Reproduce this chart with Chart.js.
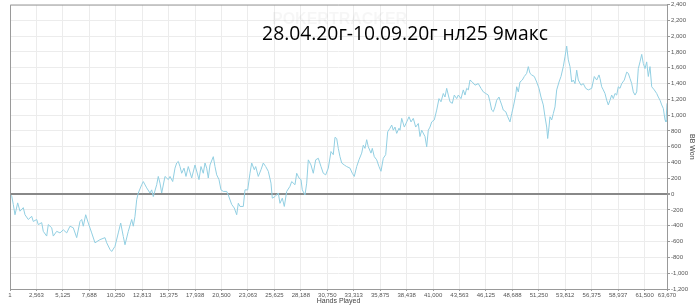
<!DOCTYPE html>
<html>
<head>
<meta charset="utf-8">
<script src="https://cdn.jsdelivr.net/npm/chart.js@4.4.1/dist/chart.umd.min.js"></script>
<style>
html,body{margin:0;padding:0;background:#fff;}
#wrap{width:700px;height:305px;position:relative;}
</style>
</head>
<body>
<div id="wrap"><canvas id="c" width="700" height="305"></canvas></div>
<script>
const chartTitle = "28.04.20г-10.09.20г нл25 9макс";
const watermark = "POKERTRACKER";
const xAxisTitle = "Hands Played";
const yAxisTitle = "BB Won";

const xTickValues = [1,2563,5125,7688,10250,12813,15375,17938,20500,23063,25625,28188,30750,33313,35875,38438,41000,43563,46125,48688,51250,53812,56375,58937,61500,63670];
const xTickLabels = ["1","2,563","5,125","7,688","10,250","12,813","15,375","17,938","20,500","23,063","25,625","28,188","30,750","33,313","35,875","38,438","41,000","43,563","46,125","48,688","51,250","53,812","56,375","58,937","61,500","63,670"];
const yMin = -1200, yMax = 2400, yStep = 200;

const hands = [1,170,320,485,746,969,1289,1454,1773,2103,2258,2588,2743,3072,3227,3557,3712,4041,4196,4526,4846,5165,5495,5815,6134,6464,6784,6949,7104,7336,7588,7918,8237,8722,
9206,9371,9691,9856,10176,10495,10728,10980,11145,11465,11794,11949,12114,12279,12434,12763,12918,13248,13567,13732,13887,14217,14372,14537,14701,15021,15341,15506,15767,15990,16155,16310,16475,16640,16862,17056,17279,17609,17928,
18316,18510,18733,18897,19062,19217,19382,19702,19867,20031,20254,20448,20671,21000,21155,21485,21737,21970,22125,22289,22609,22774,23036,23259,23423,23675,23811,24063,24324,24547,24780,25032,25294,25420,25681,26001,26166,26389,26583,26815,27135,27300,27619,27784,28007,
28201,28327,28588,28753,28908,29170,29393,29626,29878,30139,30362,30595,30846,31108,31331,31496,31661,31816,31980,32145,32397,32630,32949,33172,33366,33599,33822,34083,34238,34403,34568,34723,34985,35110,35304,35537,35760,35954,36177,36409,36603,36826,36991,37146,37310,37475,37698,
37795,37960,38212,38445,38668,38862,39084,39317,39569,39733,39898,40218,40382,40537,40702,40867,41119,41351,41574,41768,41991,42156,42321,42476,42640,42863,43057,43290,43445,43706,43929,44094,44259,44414,44579,44802,45063,45383,45645,45868,46100,46352,46517,46682,46837,47001,47166,47389,
47486,47651,47806,48039,48233,48455,48620,48775,49007,49104,49259,49424,49647,49841,50073,50229,50393,50558,50810,51043,51265,51459,51682,51847,52011,52108,52234,52331,52496,52651,52816,52981,53204,53397,53620,53785,53950,54105,54270,54434,54589,54754,54919,55074,55336,55558,55791,56043,56373,56625,56858,57080,
57177,57342,57497,57661,57826,57981,58146,58311,58466,58631,58795,58950,59115,59280,59532,59765,59920,60085,60249,60405,60569,60734,60889,61054,61219,61374,61539,61703,61858,62023,62188,62440,62672,62827,62992,63157,63312,63477,63573,63670];

const bbWon = [0,-25,-130,-260,-110,-215,-170,-260,-320,-280,-345,-320,-385,-360,-470,-530,-385,-425,-530,-470,-490,-450,-490,-405,-425,-550,-345,-320,-405,-260,-365,-490,-615,-575,
-550,-615,-700,-725,-660,-490,-365,-535,-640,-470,-320,-405,-280,-70,15,120,160,80,15,55,-30,120,225,140,15,225,185,225,160,330,395,415,350,265,330,225,350,205,370,
185,350,265,395,330,205,370,475,350,245,185,55,35,35,-10,-130,-175,-260,-115,-155,-155,55,55,265,395,310,350,225,310,395,350,290,140,-50,-30,15,-115,-50,-155,35,100,160,120,265,205,
185,55,-10,140,435,370,265,435,455,350,265,245,330,540,500,720,705,580,475,395,370,350,330,265,225,350,435,520,620,580,690,600,520,580,475,435,350,290,455,500,790,835,875,810,850,770,835,
810,960,850,915,980,915,960,850,895,730,810,730,600,810,850,915,940,1065,1210,1170,1275,1230,1340,1255,1170,1150,1255,1210,1255,1210,1320,1255,1340,1320,1445,1420,1380,1400,1340,1295,1275,1255,1170,1065,1045,1105,1190,1230,
1190,1130,1065,1045,980,915,1020,1105,1255,1360,1295,1420,1445,1490,1530,1615,1530,1510,1490,1420,1340,1230,1130,980,850,705,850,980,940,1020,1105,1320,1420,1490,1615,1740,1875,1700,1615,1420,1445,1400,1570,1445,1380,1400,1340,1320,1340,1490,1445,1510,
1465,1360,1320,1275,1190,1130,1190,1255,1210,1275,1255,1360,1340,1400,1445,1545,1530,1465,1400,1295,1255,1295,1590,1675,1770,1655,1590,1675,1490,1615,1360,1320,1275,1230,1190,1130,1085,940,915,1150];

const points = hands.map((h, i) => ({x: h, y: bbWon[i]}));

const decor = {
  id: 'decor',
  beforeDatasetsDraw(chart) {
    const {ctx} = chart;
    ctx.save();
    ctx.font = 'bold 16px "Liberation Sans", Arial, sans-serif';
    ctx.fillStyle = 'rgba(0,0,0,0.035)';
    ctx.textAlign = 'left';
    ctx.textBaseline = 'middle';
    ctx.fillText(watermark, 272, 20);
    ctx.restore();
  },
  afterDraw(chart) {
    const {ctx, chartArea: a} = chart;
    ctx.save();
    ctx.strokeStyle = '#9a9a9a';
    ctx.lineWidth = 1;
    ctx.beginPath();
    ctx.moveTo(a.left + 0.5, a.bottom);
    ctx.lineTo(a.left + 0.5, a.top + 0.5);
    ctx.lineTo(a.right, a.top + 0.5);
    ctx.stroke();
    ctx.font = '19.3px "Open Sans", "Noto Sans", sans-serif';
    ctx.fillStyle = '#000';
    ctx.textAlign = 'center';
    ctx.textBaseline = 'alphabetic';
    ctx.fillText(chartTitle, 405, 40);
    ctx.restore();
  }
};

new Chart(document.getElementById('c'), {
  type: 'line',
  data: {
    datasets: [{
      data: points,
      borderColor: '#92cfe2',
      borderWidth: 1,
      pointRadius: 0,
      tension: 0,
      fill: false
    }]
  },
  options: {
    responsive: false,
    animation: false,
    locale: 'en-US',
    layout: {padding: {left: 10, top: 4, right: 0, bottom: 0}},
    plugins: {legend: {display: false}, tooltip: {enabled: false}},
    scales: {
      x: {
        type: 'linear',
        min: 1,
        max: 63670,
        afterBuildTicks(scale) { scale.ticks = xTickValues.map(v => ({value: v})); },
        afterFit(scale) { scale.height = 16; },
        ticks: {
          autoSkip: false,
          maxRotation: 0,
          padding: 1,
          color: '#555',
          font: {size: 6, family: '"Liberation Sans", Arial, sans-serif'},
          callback(value, index) { return xTickLabels[index]; }
        },
        grid: {color: '#ececec', lineWidth: 1, tickLength: 2, tickColor: '#999'},
        border: {color: '#999', width: 1},
        title: {display: true, text: xAxisTitle, color: '#444', padding: 0,
          font: {size: 7, family: '"Liberation Sans", Arial, sans-serif'}}
      },
      y: {
        position: 'right',
        min: yMin,
        max: yMax,
        afterFit(scale) { scale.width = 33; },
        ticks: {
          stepSize: yStep,
          padding: 1,
          color: '#555',
          font: {size: 6, family: '"Liberation Sans", Arial, sans-serif'}
        },
        grid: {
          color: ctx => (ctx.tick && ctx.tick.value === 0) ? '#888' : '#ececec',
          lineWidth: ctx => (ctx.tick && ctx.tick.value === 0) ? 2 : 1,
          tickLength: 3,
          tickColor: '#999'
        },
        border: {color: '#999', width: 1},
        title: {display: true, text: yAxisTitle, color: '#444', padding: {top: 4, bottom: 0},
          font: {size: 7, family: '"Liberation Sans", Arial, sans-serif'}}
      }
    }
  },
  plugins: [decor]
});
</script>
</body>
</html>
